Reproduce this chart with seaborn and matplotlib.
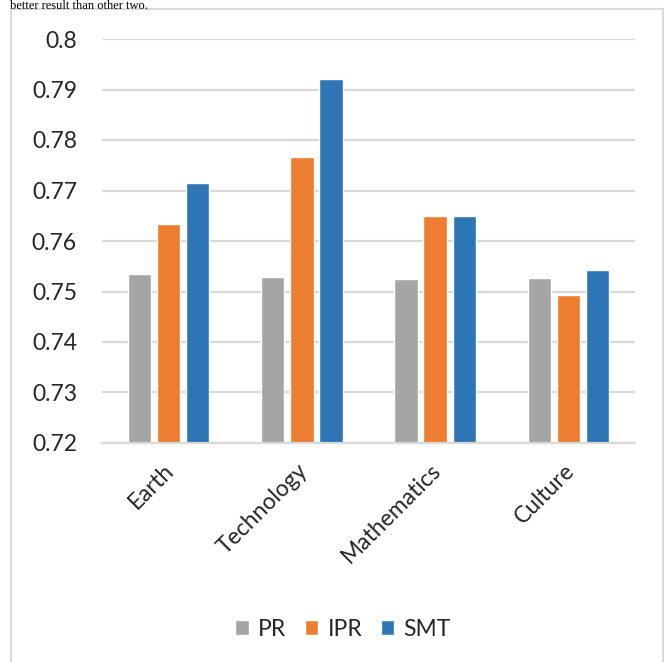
import matplotlib
matplotlib.use("Agg")
import matplotlib.pyplot as plt
import matplotlib.transforms as mtransforms
import seaborn as sns
import pandas as pd
from matplotlib.patches import Rectangle

# values
categories = ["Earth", "Technology", "Mathematics", "Culture"]
series = ["PR", "IPR", "SMT"]
pr_vals = [0.7534, 0.7529, 0.7524, 0.7527]
ipr_vals = [0.7634, 0.7766, 0.7650, 0.7493]
smt_vals = [0.7715, 0.7920, 0.7650, 0.7543]
y_ticks = [0.72, 0.73, 0.74, 0.75, 0.76, 0.77, 0.78, 0.79, 0.8]
colors = ["#A5A5A5", "#ED7D31", "#2E75B6"]


def main():
    df = pd.DataFrame({
        "category": categories * 3,
        "series": [s for s in series for _ in categories],
        "value": pr_vals + ipr_vals + smt_vals,
    })

    sns.set_style("white")
    plt.rcParams["font.family"] = ["Lato", "DejaVu Sans"]
    fs = 16.5

    fig = plt.figure(figsize=(6.67, 6.62), dpi=100)
    ax = fig.add_axes([102 / 667, 1 - 443 / 662, 533 / 667, 404 / 662])

    sns.barplot(data=df, x="category", y="value", hue="series",
                order=categories, hue_order=series, palette=colors,
                width=0.655, gap=0.2, ax=ax, legend=True, saturation=1)

    ax.set_ylim(0.72, 0.8)
    ax.set_yticks(y_ticks)
    ax.set_yticklabels([f"{t:g}" for t in y_ticks], fontsize=fs)
    ax.yaxis.grid(True, color="#d9d9d9", linewidth=1.6)
    ax.set_axisbelow(True)
    ax.tick_params(axis="y", length=0, pad=18)
    ax.tick_params(axis="x", length=0, pad=12)
    # nudge rotated category labels a little left, like the original
    shift = mtransforms.ScaledTranslation(-5 / 100, 0, fig.dpi_scale_trans)
    for lbl in ax.get_xticklabels():
        lbl.set_rotation(45)
        lbl.set_ha("right")
        lbl.set_rotation_mode("anchor")
        lbl.set_fontsize(fs)
        lbl.set_transform(lbl.get_transform() + shift)
    ax.set_xlabel("")
    ax.set_ylabel("")
    for side in ["left", "right", "top"]:
        ax.spines[side].set_visible(False)
    ax.spines["bottom"].set_color("#d9d9d9")
    ax.spines["bottom"].set_linewidth(1.6)

    handles, labels = ax.get_legend_handles_labels()
    ax.get_legend().remove()
    fig.legend(handles, labels, loc="center", ncol=3, frameon=False,
               bbox_to_anchor=(343 / 667, 1 - 629 / 662), fontsize=fs,
               handlelength=0.6, handleheight=0.6, handletextpad=0.4,
               columnspacing=0.8)

    # chart frame
    fig.patches.append(Rectangle((11 / 667, -0.05), 652 / 667, 1 - 9 / 662 + 0.05,
                                 transform=fig.transFigure, fill=False,
                                 edgecolor="#d9d9d9", linewidth=1.5))

    # fragment of the surrounding page text above the chart frame
    fig.text(10 / 667, 1.0, "better result than other two.", family="Liberation Serif",
             fontsize=9, va="top", ha="left", color="black")

    fig.savefig("out.png", dpi=100)


if __name__ == "__main__":
    main()
